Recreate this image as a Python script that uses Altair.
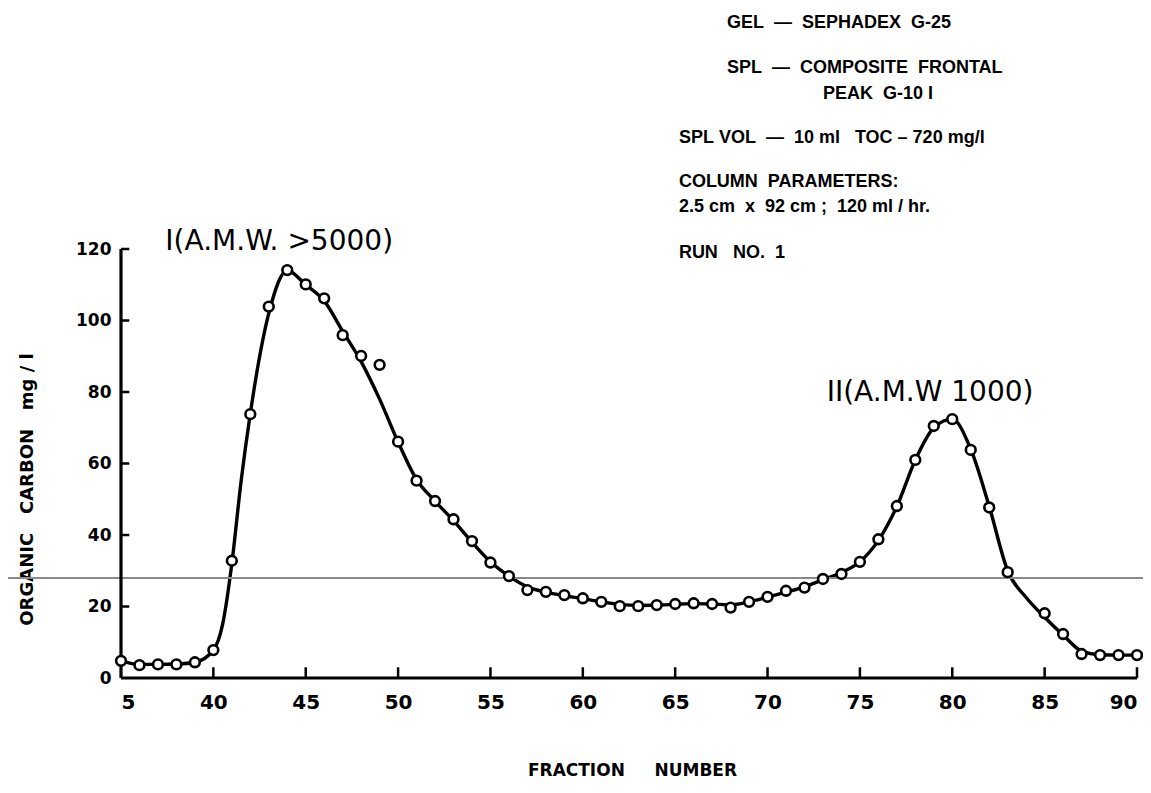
import altair as alt
import pandas as pd

NB = "\u00a0"

# measured points (fraction number, organic carbon mg/l)
fractions = [35, 36, 37, 38, 39, 40, 41, 42, 43, 44, 45, 46, 47, 48, 49, 50,
             51, 52, 53, 54, 55, 56, 57, 58, 59, 60, 61, 62, 63, 64, 65, 66,
             67, 68, 69, 70, 71, 72, 73, 74, 75, 76, 77, 78, 79, 80, 81, 82,
             83, 85, 86, 87, 88, 89, 90]
carbon = [4.8, 3.6, 3.8, 3.8, 4.4, 7.8, 32.8, 73.8, 103.9, 114.1, 110.1, 106.2,
          95.9, 90.1, 87.6, 66.1, 55.2, 49.5, 44.4, 38.3, 32.3, 28.5, 24.6, 24.1,
          23.2, 22.3, 21.3, 20.1, 20.1, 20.4, 20.7, 20.9, 20.7, 19.7, 21.3, 22.7,
          24.4, 25.3, 27.7, 29.1, 32.5, 38.8, 48.1, 61.0, 70.5, 72.4, 63.8, 47.7,
          29.6, 18.1, 12.3, 6.7, 6.4, 6.4, 6.4]

# hand-drawn smooth curve through the points
curve_x = [35, 36, 37, 38, 39, 40, 40.5, 41, 41.5, 42, 43, 44, 45, 46, 47, 48,
           49, 50, 51, 52, 53, 54, 55, 56, 57, 58, 59, 60, 61, 62, 63, 64, 65,
           66, 67, 68, 69, 70, 71, 72, 73, 74, 75, 76, 77, 78, 79, 80, 81, 82,
           83, 84, 85, 86, 87, 88, 89, 90]
curve_y = [4.8, 3.8, 3.8, 3.9, 4.4, 7.8, 15, 32, 55, 74, 102, 114, 110, 105.5,
           97, 88.5, 78, 66, 55.5, 49.5, 44, 38, 32.5, 28.5, 25.5, 24, 23, 22.2,
           21.3, 20.6, 20.3, 20.4, 20.6, 20.8, 20.7, 20.5, 21.3, 22.6, 24, 25.5,
           27.5, 29.5, 32.5, 38.5, 48, 61, 70, 72.4, 64, 48, 30, 22.5, 17, 12,
           7.5, 6.5, 6.4, 6.4]

x_ticks = [35, 40, 45, 50, 55, 60, 65, 70, 75, 80, 85, 90]
y_ticks = [0, 20, 40, 60, 80, 100, 120]
scan_line_value = 28

peak_labels = ["I(A.M.W." + NB + ">5000)", "II(A.M.W" + NB + "1000)"]
peak_label_x = [37.4, 73.2]
peak_label_y = [122.0, 79.7]


def sp(s):
    return s.replace(" ", NB)


note_lines = [sp("GEL  \u2014  SEPHADEX  G-25"),
              sp("SPL  \u2014  COMPOSITE  FRONTAL"),
              sp("PEAK  G-10 I"),
              sp("SPL VOL  \u2014  10 ml   TOC \u2013 720 mg/l"),
              sp("COLUMN  PARAMETERS:"),
              sp("2.5 cm  x  92 cm ;  120 ml / hr."),
              sp("RUN   NO.  1")]
note_x = [67.8, 67.8, 73.0, 65.2, 65.2, 65.2, 65.2]
note_y = [183.2, 170.6, 163.3, 151.0, 138.7, 131.7, 119.0]

pts = pd.DataFrame({"fraction": fractions, "carbon": carbon})
crv = pd.DataFrame({"fraction": curve_x, "carbon": curve_y})
xt = pd.DataFrame({"fraction": [v for v in x_ticks if v != 35], "lo": 0, "hi": 3})
yt = pd.DataFrame({"carbon": [v for v in y_ticks if v != 0], "lo": 35, "hi": 35.45})
peaks = pd.DataFrame({"label": peak_labels, "fraction": peak_label_x, "carbon": peak_label_y})
notes = pd.DataFrame({"label": note_lines, "fraction": note_x, "carbon": note_y})
frame_x = pd.DataFrame({"a": [x_ticks[0]], "b": [x_ticks[-1]], "v": [y_ticks[0]]})
frame_y = pd.DataFrame({"a": [y_ticks[0]], "b": [y_ticks[-1]], "v": [x_ticks[0]]})

xscale = alt.Scale(domain=[35, 90], nice=False, zero=False)
yscale = alt.Scale(domain=[0, 120], nice=False)

x_axis = alt.Axis(values=x_ticks, labelExpr="datum.value == 35 ? '5' : datum.label",
                  tickSize=0, ticks=False, grid=False, domain=False,
                  labelFont="DejaVu Sans", labelFontWeight="bold", labelFontSize=20,
                  labelColor="black", labelPadding=14,
                  title=sp("FRACTION     NUMBER"), titleFont="DejaVu Sans",
                  titleFontWeight="bold", titleFontSize=17, titleColor="black",
                  titleX=511, titleY=92, titleAlign="center", titleBaseline="middle")
y_axis = alt.Axis(values=y_ticks, tickSize=0, ticks=False, grid=False, domain=False,
                  labelFont="DejaVu Sans", labelFontWeight="bold", labelFontSize=17,
                  labelColor="black", labelPadding=10,
                  title=sp("ORGANIC   CARBON   mg / l"), titleFont="DejaVu Sans",
                  titleFontWeight="bold", titleFontSize=18, titleColor="black",
                  titleX=-94, titleY=240, titleAngle=270, titleAlign="center",
                  titleBaseline="middle")

X = lambda f: alt.X(f, scale=xscale)
Y = lambda f: alt.Y(f, scale=yscale)

scan = alt.Chart(pd.DataFrame({"carbon": [scan_line_value]})).mark_rule(
    color="#8a8a8a", strokeWidth=2).encode(
    y=Y("carbon:Q"), x=alt.value(-113), x2=alt.value(1022))

curve = alt.Chart(crv).mark_line(color="black", strokeWidth=3.4,
                                 interpolate="monotone").encode(
    x=alt.X("fraction:Q", scale=xscale, axis=x_axis),
    y=alt.Y("carbon:Q", scale=yscale, axis=y_axis))

points = alt.Chart(pts).mark_point(shape="circle", size=95, filled=False,
                                   fill="white", fillOpacity=1, stroke="black",
                                   strokeWidth=2.6, opacity=1).encode(
    x=X("fraction:Q"), y=Y("carbon:Q"))

xline = alt.Chart(frame_x).mark_rule(color="black", strokeWidth=3.2).encode(
    x=X("a:Q"), x2="b:Q", y=Y("v:Q"))
yline = alt.Chart(frame_y).mark_rule(color="black", strokeWidth=3.2).encode(
    y=Y("a:Q"), y2="b:Q", x=X("v:Q"))

xtick = alt.Chart(xt).mark_rule(color="black", strokeWidth=2.5).encode(
    x=X("fraction:Q"), y=Y("lo:Q"), y2="hi:Q")
ytick = alt.Chart(yt).mark_rule(color="black", strokeWidth=2.5).encode(
    y=Y("carbon:Q"), x=X("lo:Q"), x2="hi:Q")

peak_text = alt.Chart(peaks).mark_text(align="left", baseline="middle",
                                       font="DejaVu Sans", fontSize=28,
                                       color="black").encode(
    x=X("fraction:Q"), y=Y("carbon:Q"), text="label:N")

note_text = alt.Chart(notes).mark_text(align="left", baseline="middle",
                                       font="Liberation Sans", fontWeight="bold",
                                       fontSize=18, color="black").encode(
    x=X("fraction:Q"), y=Y("carbon:Q"), text="label:N")

chart = alt.layer(curve, scan, xline, yline, xtick, ytick, points,
                  peak_text, note_text).properties(
    width=1016, height=429,
    background="white",
    autosize=alt.AutoSizeParams(type="none"),
    padding={"left": 113, "top": 241, "right": 6, "bottom": 105},
).configure_view(stroke=None, strokeWidth=0)

chart.save("out.html", embed_options={"renderer": "svg", "actions": False})
